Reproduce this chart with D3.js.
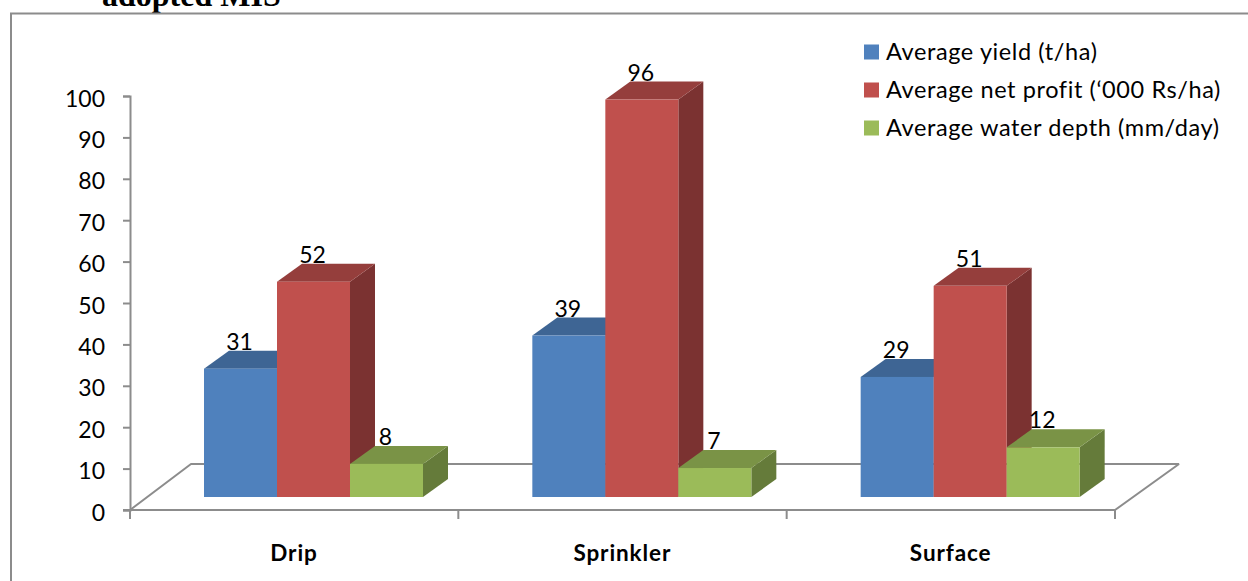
<!DOCTYPE html>
<html>
<head>
<meta charset="utf-8">
<script src="https://cdn.jsdelivr.net/npm/d3@7/dist/d3.min.js"></script>
<style>
  html, body { margin: 0; padding: 0; background: #fff; overflow: hidden; }
  svg { display: block; }
  text { font-family: Lato, "Noto Sans", sans-serif; fill: #000; }
</style>
</head>
<body>
<svg id="chart" width="1248" height="581"></svg>
<script>
const categories = ["Drip", "Sprinkler", "Surface"];
const seriesNames = ["Average yield (t/ha)", "Average net profit (‘000 Rs/ha)", "Average water depth (mm/day)"];
const yieldValues = [31, 39, 29];
const profitValues = [52, 96, 51];
const depthValues = [8, 7, 12];
const tickValues = d3.range(0, 101, 10);

const frontColors = ["#4f81bd", "#c0504d", "#9bbb59"];
const topColors = ["#3e6594", "#953e3c", "#7a9346"];
const sideColors = ["#34557c", "#7b3231", "#657b3a"];
const axisColor = "#8c8c8c";

const svg = d3.select("#chart");

// Heading fragment running off the top of the page, and the chart frame
svg.append("text").attr("x", 102).attr("y", 6)
  .style("font-family", '"Liberation Serif", serif')
  .style("font-weight", "bold").style("font-size", "32px")
  .text("adopted MIS");
svg.append("path")
  .attr("d", "M11,581V13.5H1248")
  .attr("fill", "none").attr("stroke", axisColor).attr("stroke-width", 2);

const y = d3.scaleLinear().domain([0, 100]).range([510, 96]);
const x = d3.scaleBand().domain(categories).range([130, 1115]);

// Perspective offsets of the chart floor and of each column
const floor = { dx: 61, dy: -46 };
const depth = { dx: 25, dy: -18 };
const lift = 13;
const groupStart = 74;
const barWidth = 73;

const inner = d3.scaleBand().domain(d3.range(seriesNames.length)).range([0, barWidth * 3]);

// Floor outline behind the columns
svg.append("path")
  .attr("d", `M${x.range()[0]},${y(0)}L${x.range()[0] + floor.dx},${y(0) + floor.dy}` +
             `H${x.range()[1] + floor.dx + 3}L${x.range()[1]},${y(0)}`)
  .attr("fill", "none").attr("stroke", axisColor).attr("stroke-width", 2)
  .attr("stroke-linejoin", "bevel");

// Value axis
const yAxis = svg.append("g")
  .attr("transform", `translate(${x.range()[0]},0)`)
  .call(d3.axisLeft(y).tickValues(tickValues).tickSize(7).tickPadding(6));
yAxis.selectAll("path,line").attr("stroke", axisColor).attr("stroke-width", 2);
yAxis.selectAll("text").style("font-size", "23px").attr("dy", "0.44em").attr("x", -25);

// Category axis with ticks between the groups
const xEdge = svg.append("g");
xEdge.append("line")
  .attr("x1", x.range()[0] - 7).attr("x2", x.range()[1])
  .attr("y1", y(0)).attr("y2", y(0))
  .attr("stroke", axisColor).attr("stroke-width", 2);
xEdge.selectAll("line.tick")
  .data(categories.map(c => x(c)).concat(x.range()[1]))
  .join("line").attr("class", "tick")
  .attr("x1", d => d).attr("x2", d => d)
  .attr("y1", y(0)).attr("y2", y(0) + 9)
  .attr("stroke", axisColor).attr("stroke-width", 2);
svg.selectAll("text.category").data(categories).join("text")
  .attr("class", "category")
  .attr("x", d => x(d) + 164).attr("y", 561)
  .attr("text-anchor", "middle")
  .style("font-weight", "bold").style("font-size", "22.5px")
  .style("letter-spacing", "0.9px")
  .text(d => d);

// Three-dimensional columns: side and top faces first, front face last
const allSeries = [yieldValues, profitValues, depthValues];
allSeries.forEach((values, s) => {
  categories.forEach((cat, c) => {
    const left = x(cat) + groupStart + inner(s);
    const right = left + inner.bandwidth();
    const base = y(0) - lift;
    const top = y(values[c]) - lift;
    const g = svg.append("g");
    g.append("path")
      .attr("d", `M${right},${top}L${right + depth.dx},${top + depth.dy}V${base + depth.dy}L${right},${base}Z`)
      .attr("fill", sideColors[s]);
    g.append("path")
      .attr("d", `M${left},${top}L${left + depth.dx},${top + depth.dy}H${right + depth.dx}L${right},${top}Z`)
      .attr("fill", topColors[s]);
    g.append("rect")
      .attr("x", left).attr("y", top)
      .attr("width", inner.bandwidth()).attr("height", base - top)
      .attr("fill", frontColors[s]);
  });
});

// Value labels sit just above the back edge of each column
allSeries.forEach((values, s) => {
  categories.forEach((cat, c) => {
    svg.append("text")
      .attr("x", x(cat) + groupStart + inner(s) + inner.bandwidth() / 2 - 1)
      .attr("y", y(values[c]) - lift + depth.dy - 1)
      .attr("text-anchor", "middle")
      .style("font-size", "23px")
      .text(values[c]);
  });
});

// Legend
const legendRow = d3.scalePoint().domain(seriesNames).range([52, 128]);
const legend = svg.selectAll("g.legend").data(seriesNames).join("g")
  .attr("class", "legend")
  .attr("transform", d => `translate(864,${legendRow(d)})`);
legend.append("rect").attr("x", 0).attr("y", -7.5).attr("width", 15).attr("height", 15)
  .attr("fill", (d, i) => frontColors[i]);
legend.append("text").attr("x", 22).attr("y", 7.5)
  .style("font-size", "23.5px")
  .style("letter-spacing", "0.6px")
  .text(d => d);
</script>
</body>
</html>
